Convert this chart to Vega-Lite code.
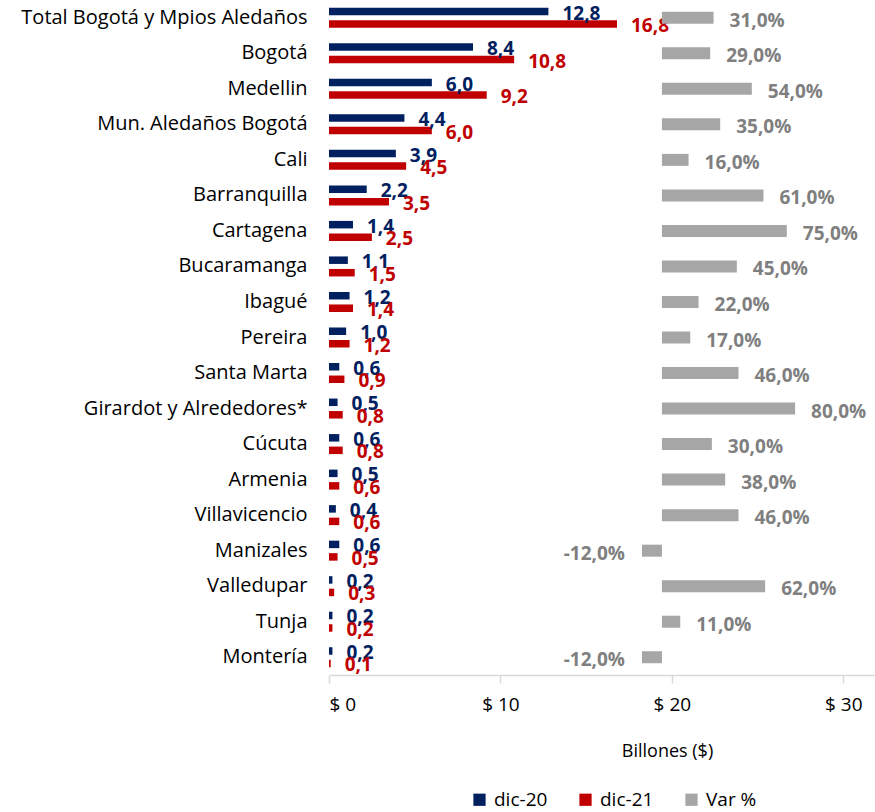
{
  "$schema": "https://vega.github.io/schema/vega-lite/v6.json",
  "width": 546,
  "height": 675,
  "padding": {"left": 0, "top": 0, "right": 0, "bottom": 0},
  "config": {
    "locale": {"number": {"decimal": ",", "thousands": ".", "grouping": [3], "currency": ["$", ""], "minus": "-"}},
    "view": {"stroke": null},
    "font": "Open Sans"
  },
  "datasets": {
    "bars": [
      {"city": "Total Bogotá y Mpios Aledaños", "series": "dic-20", "value": 12.8},
      {"city": "Total Bogotá y Mpios Aledaños", "series": "dic-21", "value": 16.8},
      {"city": "Bogotá", "series": "dic-20", "value": 8.4},
      {"city": "Bogotá", "series": "dic-21", "value": 10.8},
      {"city": "Medellin", "series": "dic-20", "value": 6.0},
      {"city": "Medellin", "series": "dic-21", "value": 9.2},
      {"city": "Mun. Aledaños Bogotá", "series": "dic-20", "value": 4.4},
      {"city": "Mun. Aledaños Bogotá", "series": "dic-21", "value": 6.0},
      {"city": "Cali", "series": "dic-20", "value": 3.9},
      {"city": "Cali", "series": "dic-21", "value": 4.5},
      {"city": "Barranquilla", "series": "dic-20", "value": 2.2},
      {"city": "Barranquilla", "series": "dic-21", "value": 3.5},
      {"city": "Cartagena", "series": "dic-20", "value": 1.4},
      {"city": "Cartagena", "series": "dic-21", "value": 2.5},
      {"city": "Bucaramanga", "series": "dic-20", "value": 1.1},
      {"city": "Bucaramanga", "series": "dic-21", "value": 1.5},
      {"city": "Ibagué", "series": "dic-20", "value": 1.2},
      {"city": "Ibagué", "series": "dic-21", "value": 1.4},
      {"city": "Pereira", "series": "dic-20", "value": 1.0},
      {"city": "Pereira", "series": "dic-21", "value": 1.2},
      {"city": "Santa Marta", "series": "dic-20", "value": 0.6},
      {"city": "Santa Marta", "series": "dic-21", "value": 0.9},
      {"city": "Girardot y Alrededores*", "series": "dic-20", "value": 0.5},
      {"city": "Girardot y Alrededores*", "series": "dic-21", "value": 0.8},
      {"city": "Cúcuta", "series": "dic-20", "value": 0.6},
      {"city": "Cúcuta", "series": "dic-21", "value": 0.8},
      {"city": "Armenia", "series": "dic-20", "value": 0.5},
      {"city": "Armenia", "series": "dic-21", "value": 0.6},
      {"city": "Villavicencio", "series": "dic-20", "value": 0.4},
      {"city": "Villavicencio", "series": "dic-21", "value": 0.6},
      {"city": "Manizales", "series": "dic-20", "value": 0.6},
      {"city": "Manizales", "series": "dic-21", "value": 0.5},
      {"city": "Valledupar", "series": "dic-20", "value": 0.2},
      {"city": "Valledupar", "series": "dic-21", "value": 0.3},
      {"city": "Tunja", "series": "dic-20", "value": 0.2},
      {"city": "Tunja", "series": "dic-21", "value": 0.2},
      {"city": "Montería", "series": "dic-20", "value": 0.2},
      {"city": "Montería", "series": "dic-21", "value": 0.1}
    ],
    "var": [
      {"city": "Total Bogotá y Mpios Aledaños", "series": "Var %", "var": 0.31},
      {"city": "Bogotá", "series": "Var %", "var": 0.29},
      {"city": "Medellin", "series": "Var %", "var": 0.54},
      {"city": "Mun. Aledaños Bogotá", "series": "Var %", "var": 0.35},
      {"city": "Cali", "series": "Var %", "var": 0.16},
      {"city": "Barranquilla", "series": "Var %", "var": 0.61},
      {"city": "Cartagena", "series": "Var %", "var": 0.75},
      {"city": "Bucaramanga", "series": "Var %", "var": 0.45},
      {"city": "Ibagué", "series": "Var %", "var": 0.22},
      {"city": "Pereira", "series": "Var %", "var": 0.17},
      {"city": "Santa Marta", "series": "Var %", "var": 0.46},
      {"city": "Girardot y Alrededores*", "series": "Var %", "var": 0.80},
      {"city": "Cúcuta", "series": "Var %", "var": 0.30},
      {"city": "Armenia", "series": "Var %", "var": 0.38},
      {"city": "Villavicencio", "series": "Var %", "var": 0.46},
      {"city": "Manizales", "series": "Var %", "var": -0.12},
      {"city": "Valledupar", "series": "Var %", "var": 0.62},
      {"city": "Tunja", "series": "Var %", "var": 0.11},
      {"city": "Montería", "series": "Var %", "var": -0.12}
    ]
  },
  "encoding": {
    "y": {
      "field": "city",
      "type": "nominal",
      "sort": ["Total Bogotá y Mpios Aledaños", "Bogotá", "Medellin", "Mun. Aledaños Bogotá", "Cali", "Barranquilla", "Cartagena", "Bucaramanga", "Ibagué", "Pereira", "Santa Marta", "Girardot y Alrededores*", "Cúcuta", "Armenia", "Villavicencio", "Manizales", "Valledupar", "Tunja", "Montería"],
      "scale": {"paddingInner": 0.437, "paddingOuter": 0.2185},
      "axis": {
        "title": null,
        "ticks": false,
        "domain": false,
        "labelFontSize": 20,
        "labelColor": "#000000",
        "labelPadding": 22,
        "labelLimit": 400,
        "minExtent": 329,
        "maxExtent": 329
      }
    }
  },
  "layer": [
    {
      "data": {"name": "bars"},
      "encoding": {
        "yOffset": {"field": "series", "type": "nominal", "sort": ["dic-20", "dic-21"], "scale": {"paddingInner": 0.4}},
        "x": {
          "field": "value",
          "type": "quantitative",
          "scale": {"domain": [0, 31.85], "nice": false},
          "axis": {
            "values": [0, 10, 20, 30],
            "labelExpr": "'$ ' + datum.value",
            "labelFontSize": 19,
            "labelColor": "#000000",
            "labelPadding": 12,
            "tickColor": "#D9D9D9",
            "domainColor": "#D9D9D9",
            "domainWidth": 1.5,
            "tickWidth": 1.5,
            "tickSize": 8,
            "grid": false,
            "title": "Billones ($)",
            "titleX": 338,
            "titleY": 76,
            "titleAlign": "center",
            "titleBaseline": "middle",
            "titleFontSize": 18,
            "titleFontWeight": "normal",
            "titleColor": "#000000"
          }
        }
      },
      "layer": [
        {
          "mark": {"type": "bar"},
          "encoding": {
            "color": {
              "field": "series",
              "type": "nominal",
              "scale": {"domain": ["dic-20", "dic-21", "Var %"], "range": ["#002060", "#C00000", "#A6A6A6"]},
              "legend": {
                "orient": "none",
                "legendX": 141,
                "legendY": 790,
                "direction": "horizontal",
                "title": null,
                "symbolType": "square",
                "symbolSize": 150,
                "symbolStrokeWidth": 0,
                "labelFontSize": 19,
                "labelColor": "#000000",
                "labelOffset": 5,
                "columnPadding": 28
              }
            }
          }
        },
        {
          "mark": {"type": "text", "align": "left", "baseline": "middle", "dx": 14, "dy": 2, "fontWeight": "bold", "fontSize": 19},
          "encoding": {
            "text": {"field": "value", "type": "quantitative", "format": ".1f"},
            "color": {"condition": {"test": "datum.series === 'dic-20'", "value": "#002060"}, "value": "#C00000"}
          }
        }
      ]
    },
    {
      "data": {"name": "var"},
      "encoding": {
        "x": {
          "field": "var",
          "type": "quantitative",
          "scale": {"domain": [-2.0, 1.28], "nice": false},
          "axis": null
        }
      },
      "layer": [
        {
          "mark": {"type": "bar", "height": 12},
          "encoding": {
            "color": {"field": "series", "type": "nominal"}
          }
        },
        {
          "transform": [{"filter": "datum.var >= 0"}],
          "mark": {"type": "text", "align": "left", "baseline": "middle", "dx": 16, "dy": 3, "fontWeight": "bold", "fontSize": 19, "color": "#7F7F7F"},
          "encoding": {
            "text": {"field": "var", "type": "quantitative", "format": ".1%"}
          }
        },
        {
          "transform": [{"filter": "datum.var < 0"}],
          "mark": {"type": "text", "align": "right", "baseline": "middle", "dx": -17, "dy": 3, "fontWeight": "bold", "fontSize": 19, "color": "#7F7F7F"},
          "encoding": {
            "text": {"field": "var", "type": "quantitative", "format": ".1%"}
          }
        }
      ]
    }
  ],
  "resolve": {"scale": {"x": "independent"}}
}
